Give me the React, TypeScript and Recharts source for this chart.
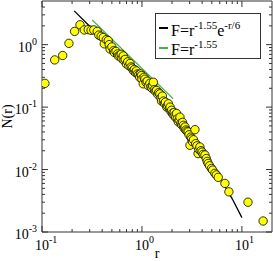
import React from "react";
import { ComposedChart, Scatter, Line, XAxis, YAxis } from "recharts";

const rValues = [
  0.107, 0.134, 0.161, 0.186, 0.212, 0.24, 0.265, 0.29, 0.31, 0.33, 0.357, 0.37,
  0.39, 0.41, 0.42, 0.44, 0.46, 0.47, 0.48, 0.5, 0.52, 0.53, 0.55, 0.57, 0.58,
  0.6, 0.62, 0.63, 0.65, 0.66, 0.68, 0.7, 0.72, 0.74, 0.76, 0.78, 0.8, 0.82,
  0.84, 0.86, 0.88, 0.9, 0.93, 0.95, 0.97, 0.99, 1.0, 1.03, 1.05, 1.07, 1.1,
  1.13, 1.16, 1.2, 1.23, 1.26, 1.28, 1.3, 1.33, 1.36, 1.4, 1.44, 1.47, 1.51,
  1.55, 1.57, 1.6, 1.64, 1.68, 1.72, 1.77, 1.8, 1.84, 1.88, 1.91, 1.95, 1.98,
  2.02, 2.06, 2.1, 2.14, 2.18, 2.22, 2.26, 2.31, 2.36, 2.4, 2.45, 2.5, 2.55,
  2.6, 2.65, 2.7, 2.76, 2.82, 2.9, 2.96, 3.02, 3.08, 3.14, 3.2, 3.28, 3.39,
  3.45, 3.55, 3.64, 3.72, 3.8, 3.9, 4.0, 4.1, 4.27, 4.4, 4.5, 4.6, 4.75, 4.96,
  5.1, 5.37, 5.55, 5.8, 6.76, 7.41, 11.5, 16.3,
];
const nValues = [
  0.24, 0.57, 0.67, 1.05, 1.63, 2.08, 1.72, 1.74, 1.7, 1.72, 1.63, 1.42,
  1.36, 1.3, 1.03, 1.2, 1.16, 1.0, 0.85, 0.92, 0.8, 0.75, 0.78, 0.71, 0.66,
  0.67, 0.7, 0.6, 0.66, 0.56, 0.58, 0.49, 0.53, 0.46, 0.5, 0.44, 0.42, 0.385,
  0.4, 0.36, 0.38, 0.34, 0.33, 0.3, 0.34, 0.32, 0.28, 0.236, 0.3, 0.28, 0.25,
  0.26, 0.22, 0.24, 0.21, 0.2, 0.22, 0.25, 0.19, 0.18, 0.185, 0.16, 0.17, 0.163,
  0.14, 0.125, 0.15, 0.125, 0.115, 0.12, 0.1, 0.105, 0.113, 0.095, 0.1, 0.085, 0.089,
  0.08, 0.075, 0.082, 0.074, 0.068, 0.079, 0.065, 0.058, 0.062, 0.069, 0.055, 0.052, 0.057,
  0.051, 0.046, 0.048, 0.043, 0.041, 0.04, 0.036, 0.0245, 0.033, 0.031, 0.028, 0.03, 0.0435,
  0.026, 0.024, 0.018, 0.021, 0.023, 0.02, 0.019, 0.0175, 0.0171, 0.015, 0.0135, 0.0125, 0.0115, 0.0104,
  0.0098, 0.0087, 0.0082, 0.0075, 0.006, 0.0044, 0.003, 0.0015,
];

// black curve F=r^-1.55 e^-r/6
const fitR = [0.21, 0.3, 0.5, 0.7, 1, 1.5, 2, 3, 4, 5, 6, 7, 8, 10];
const fitN = [3.47, 1.97, 0.862, 0.495, 0.271, 0.133, 0.0783, 0.0354, 0.0192, 0.0115, 0.0073, 0.0049, 0.0034, 0.0017];

// green line F=r^-1.55
const powR = [0.318, 2.05];
const powN = [2.48, 0.136];

const xTicks = [0.1, 0.2, 0.3, 0.4, 0.5, 0.6, 0.7, 0.8, 0.9, 1, 2, 3, 4, 5, 6, 7, 8, 9, 10];
const yTicks = [
  0.001, 0.002, 0.003, 0.004, 0.005, 0.006, 0.007, 0.008, 0.009,
  0.01, 0.02, 0.03, 0.04, 0.05, 0.06, 0.07, 0.08, 0.09,
  0.1, 0.2, 0.3, 0.4, 0.5, 0.6, 0.7, 0.8, 0.9, 1, 2, 3, 4,
];

const points = rValues.map((r, i) => ({ r, n: nValues[i] }));
const fitData = fitR.map((r, i) => ({ r, n: fitN[i] }));
const powData = powR.map((r, i) => ({ r, n: powN[i] }));

const AXIS = "#333";
const FONT = "'Liberation Serif', 'DejaVu Serif', serif";
const GREEN = "#46b04a";

const isMajor = (v: number) =>
  Math.abs(Math.log10(v) - Math.round(Math.log10(v))) < 1e-6;
const expOf = (v: number) => Math.round(Math.log10(v));

const BottomTick = ({ x, y, payload }: any) => {
  const major = isMajor(payload.value);
  return (
    <g>
      <line x1={x} x2={x} y1={y} y2={y - (major ? 6 : 3)} stroke={AXIS} />
      {major && (
        <text x={x - 7} y={y + 18} fontSize={14} fontFamily={FONT} fill="#000">
          10
          <tspan dy={-7} fontSize={10}>
            {expOf(payload.value)}
          </tspan>
        </text>
      )}
    </g>
  );
};

const TopTick = ({ x, y, payload }: any) => {
  const major = isMajor(payload.value);
  return <line x1={x} x2={x} y1={y} y2={y + (major ? 6 : 3)} stroke={AXIS} />;
};

const LeftTick = ({ x, y, payload }: any) => {
  const major = isMajor(payload.value);
  return (
    <g>
      <line x1={x} x2={x + (major ? 6 : 3)} y1={y} y2={y} stroke={AXIS} />
      {major && (
        <text x={x - 5} y={y + 7} fontSize={14} fontFamily={FONT} fill="#000" textAnchor="end">
          10
          <tspan dy={-7} fontSize={10}>
            {expOf(payload.value)}
          </tspan>
        </text>
      )}
    </g>
  );
};

const RightTick = ({ x, y, payload }: any) => {
  const major = isMajor(payload.value);
  return <line x1={x} x2={x - (major ? 6 : 3)} y1={y} y2={y} stroke={AXIS} />;
};

const XTitle = ({ viewBox }: any) => (
  <text
    x={viewBox.x + viewBox.width / 2}
    y={viewBox.y + 26}
    textAnchor="middle"
    fontSize={14}
    fontFamily={FONT}
  >
    r
  </text>
);

const YTitle = ({ viewBox }: any) => {
  const cx = 12;
  const cy = viewBox.y + viewBox.height / 2;
  return (
    <text
      x={cx}
      y={cy}
      transform={`rotate(-90 ${cx} ${cy})`}
      textAnchor="middle"
      fontSize={14}
      fontFamily={FONT}
    >
      N(r)
    </text>
  );
};

const Dot = (props: any) => (
  <circle cx={props.cx} cy={props.cy} r={4.2} fill="#ffff00" stroke="#000" strokeWidth={0.8} />
);

const sup = { fontSize: 11, position: "relative" as const, top: -7 };

export default function App() {
  return (
    <div style={{ position: "absolute", left: 0, top: 0, width: 273, height: 261, background: "#fff" }}>
      <ComposedChart
        width={273}
        height={261}
        margin={{ top: 0, right: 0, bottom: 28, left: 41 }}
      >
        <XAxis
          xAxisId="b"
          dataKey="r"
          type="number"
          scale="log"
          domain={[0.1, 20]}
          allowDataOverflow
          ticks={xTicks}
          interval={0}
          height={1}
          tickSize={0}
          tickMargin={0}
          tick={<BottomTick />}
          axisLine={{ stroke: AXIS }}
          label={<XTitle />}
        />
        <XAxis
          xAxisId="t"
          orientation="top"
          dataKey="r"
          type="number"
          scale="log"
          domain={[0.1, 20]}
          allowDataOverflow
          ticks={xTicks}
          interval={0}
          height={1}
          tickSize={0}
          tickMargin={0}
          tick={<TopTick />}
          axisLine={{ stroke: AXIS }}
        />
        <YAxis
          yAxisId="l"
          type="number"
          scale="log"
          domain={[0.001, 5]}
          allowDataOverflow
          ticks={yTicks}
          interval={0}
          width={1}
          tickSize={0}
          tickMargin={0}
          tick={<LeftTick />}
          axisLine={{ stroke: AXIS }}
          label={<YTitle />}
        />
        <YAxis
          yAxisId="r"
          orientation="right"
          type="number"
          scale="log"
          domain={[0.001, 5]}
          allowDataOverflow
          ticks={yTicks}
          interval={0}
          width={1}
          tickSize={0}
          tickMargin={0}
          tick={<RightTick />}
          axisLine={{ stroke: AXIS }}
        />
        <Scatter
          xAxisId="b"
          yAxisId="l"
          data={points}
          dataKey="n"
          shape={<Dot />}
          isAnimationActive={false}
        />
        <Line
          xAxisId="b"
          yAxisId="l"
          data={fitData}
          dataKey="n"
          type="linear"
          stroke="#000"
          strokeWidth={1.3}
          dot={false}
          isAnimationActive={false}
        />
        <Line
          xAxisId="b"
          yAxisId="l"
          data={powData}
          dataKey="n"
          type="linear"
          stroke={GREEN}
          strokeWidth={1.1}
          dot={false}
          isAnimationActive={false}
        />
      </ComposedChart>
      <div
        style={{
          position: "absolute",
          left: 155,
          top: 13,
          width: 106,
          height: 46,
          border: `1px solid ${AXIS}`,
          background: "#fff",
          fontFamily: FONT,
          fontSize: 16,
          lineHeight: "16px",
          boxSizing: "border-box",
        }}
      >
        <div style={{ position: "absolute", left: 3, top: 13, width: 9, height: 1.5, background: "#000" }} />
        <div style={{ position: "absolute", left: 15, top: 9, whiteSpace: "nowrap" }}>
          F=r<span style={sup}>-1.55</span>e<span style={sup}>-r/6</span>
        </div>
        <div style={{ position: "absolute", left: 3, top: 33, width: 9, height: 1.5, background: GREEN }} />
        <div style={{ position: "absolute", left: 15, top: 28, whiteSpace: "nowrap" }}>
          F=r<span style={sup}>-1.55</span>
        </div>
      </div>
    </div>
  );
}
